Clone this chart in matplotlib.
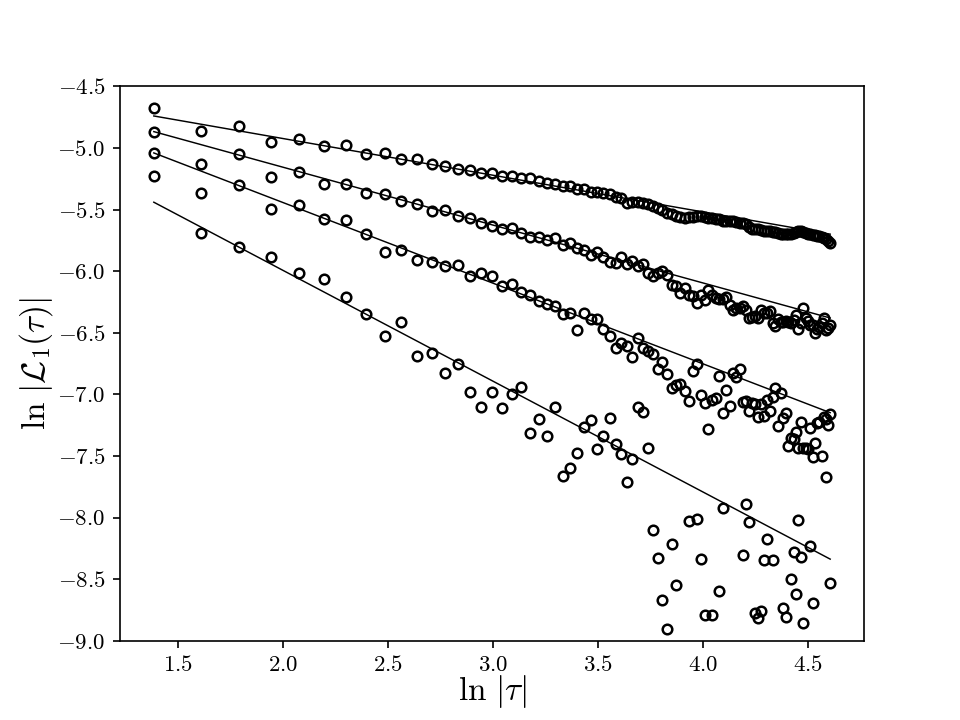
import numpy as np
import matplotlib
matplotlib.use("Agg")
import matplotlib.pyplot as plt

plt.rcParams.update({
    "font.family": "serif",
    "font.serif": ["cmr10"],
    "mathtext.fontset": "cm",
    "axes.formatter.use_mathtext": True,
    "axes.unicode_minus": True,
})

# lags tau = 4 ... 100
tau = np.arange(4, 101)

# ln|L1(tau)| for the four curves (None = below the plotted range)
series_a = [
    -4.678, -4.862, -4.821, -4.949, -4.927, -4.981, -4.978, -5.046, -5.043, -5.089,
    -5.092, -5.127, -5.146, -5.168, -5.181, -5.206, -5.200, -5.230, -5.230, -5.241,
    -5.246, -5.265, -5.287, -5.290, -5.308, -5.308, -5.335, -5.335, -5.360, -5.360,
    -5.368, -5.376, -5.395, -5.408, -5.449, -5.436, -5.441, -5.449, -5.457, -5.471,
    -5.484, -5.503, -5.525, -5.538, -5.549, -5.563, -5.571, -5.563, -5.557, -5.552,
    -5.555, -5.560, -5.565, -5.570, -5.575, -5.580, -5.590, -5.595, -5.590, -5.595,
    -5.600, -5.605, -5.610, -5.620, -5.645, -5.655, -5.660, -5.660, -5.665, -5.670,
    -5.672, -5.675, -5.680, -5.685, -5.690, -5.695, -5.700, -5.700, -5.700, -5.695,
    -5.690, -5.680, -5.672, -5.675, -5.685, -5.690, -5.700, -5.700, -5.705, -5.710,
    -5.712, -5.715, -5.720, -5.730, -5.740, -5.755, -5.770,
]
series_b = [
    -4.867, -5.130, -5.051, -5.238, -5.192, -5.292, -5.292, -5.363, -5.373, -5.433,
    -5.457, -5.511, -5.501, -5.550, -5.568, -5.611, -5.631, -5.660, -5.652, -5.690,
    -5.725, -5.720, -5.747, -5.733, -5.787, -5.774, -5.814, -5.828, -5.869, -5.842,
    -5.882, -5.923, -5.936, -5.887, -5.944, -5.917, -5.958, -5.942, -6.017, -6.039,
    -6.012, -5.998, -6.031, -6.112, -6.120, -6.174, -6.139, -6.190, -6.201, -6.261,
    -6.193, -6.234, -6.153, -6.193, -6.220, -6.228, -6.228, -6.212, -6.274, -6.315,
    -6.301, -6.301, -6.282, -6.315, -6.383, -6.369, -6.364, -6.383, -6.315, -6.342,
    -6.337, -6.323, -6.418, -6.445, -6.391, -6.410, -6.410, -6.402, -6.410, -6.423,
    -6.396, -6.356, -6.472, -6.423, -6.301, -6.383, -6.402, -6.437, -6.437, -6.505,
    -6.472, -6.450, -6.418, -6.383, -6.477, -6.464, -6.437,
]
series_c = [
    -5.043, -5.368, -5.300, -5.498, -5.463, -5.576, -5.587, -5.698, -5.842, -5.830,
    -5.906, -5.923, -5.960, -5.952, -6.039, -6.017, -6.036, -6.123, -6.104, -6.169,
    -6.196, -6.242, -6.269, -6.285, -6.348, -6.342, -6.477, -6.342, -6.388, -6.391,
    -6.469, -6.526, -6.626, -6.580, -6.604, -6.699, -6.545, -6.621, -6.645, -6.672,
    -6.796, -6.740, -6.834, -6.951, -6.924, -6.916, -6.972, -7.052, -6.807, -6.757,
    -7.005, -7.073, -7.283, -7.045, -7.027, -6.848, -7.154, -6.964, -7.094, -6.829,
    -6.861, -6.794, -7.062, -7.054, -7.135, -7.073, -7.081, -7.187, -7.078, -7.175,
    -7.045, -7.135, -7.024, -6.951, -7.254, -6.991, -7.189, -7.148, -7.419, -7.351,
    -7.365, -7.303, -7.432, -7.221, -7.432, -7.437, -7.446, -7.275, -7.506, -7.392,
    -7.235, -7.227, -7.500, -7.186, -7.200, -7.248, -7.159,
]
series_d = [
    -5.227, -5.693, -5.801, -5.887, -6.012, -6.066, -6.207, -6.348, -6.523, -6.414,
    -6.691, -6.667, -6.824, -6.753, -6.983, -7.105, -6.983, -7.110, -6.997, -6.940,
    -7.311, -7.200, -7.340, -7.100, -7.660, -7.600, -7.478, -7.262, -7.208, -7.443,
    -7.338, -7.189, -7.403, -7.484, -7.711, -7.524, -7.105, -7.140, -7.435, -8.103,
    -8.328, -8.671, -8.902, -8.212, -8.545, None, None, -8.030, None, -8.011,
    -8.339, -8.793, None, -8.793, None, -8.596, -7.920, None, None, None,
    None, None, -8.303, -7.892, -8.036, None, -8.777, -8.812, -8.756, -8.344,
    -8.171, None, -8.344, None, None, None, -8.731, -8.804, None, -8.496,
    -8.277, -8.623, -8.019, -8.320, -8.856, None, None, -8.231, -8.696, None,
    None, None, None, None, -7.668, None, -8.528,
]

# straight reference lines: value at ln(4) and slope
line_start = [-4.74, -4.867, -5.04, -5.44]
line_slope = [-0.298, -0.470, -0.655, -0.900]

x = np.log(tau)

fig, ax = plt.subplots(figsize=(6.4, 4.8), dpi=150)

for ys in (series_a, series_b, series_c, series_d):
    ys = np.array(ys, dtype=float)
    ax.plot(x, ys, "o", mfc="none", mec="black", ms=4.6, mew=1.2)

xl = np.array([x[0], x[-1]])
for y0, s in zip(line_start, line_slope):
    ax.plot(xl, y0 + s * (xl - x[0]), color="black", lw=0.7)

ax.set_ylim(-9.0, -4.5)
ax.set_xlabel(r"$\ln\,|\tau|$", fontsize=16, labelpad=-1)
ax.set_ylabel(r"$\ln\,|\mathcal{L}_1(\tau)|$", fontsize=16, labelpad=1)
ax.tick_params(labelsize=11)

fig.savefig("out.png", dpi=150)
